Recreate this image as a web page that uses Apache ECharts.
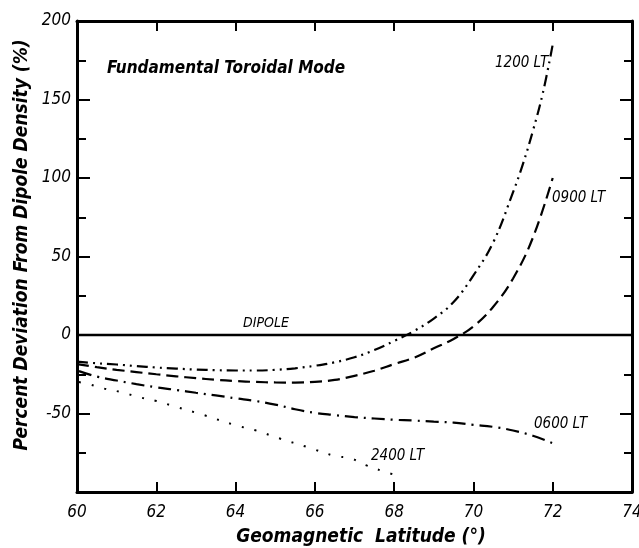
<!DOCTYPE html>
<html>
<head>
<meta charset="utf-8">
<script src="https://cdn.jsdelivr.net/npm/echarts@6/dist/echarts.min.js"></script>
<style>
html,body{margin:0;padding:0;background:#fff;}
#chart{width:639px;height:548px;}
</style>
</head>
<body>
<div id="chart"></div>
<script>
// ---- data ----
var lat1200 = [60.0, 60.5, 61.0, 61.5, 62.0, 62.5, 63.0, 63.5, 64.0, 64.5, 65.0, 65.5, 66.0, 66.5, 67.0, 67.5, 68.0, 68.5, 69.0, 69.5, 70.0, 70.5, 71.0, 71.25, 71.5, 71.75, 72.0];
var val1200 = [-17, -18, -18.8, -19.8, -20.7, -21.4, -22, -22.4, -22.6, -22.6, -22.2, -21.2, -19.6, -17.4, -14.2, -9.6, -3.8, 2.5, 10.5, 21, 38, 59, 91, 109, 130, 154, 185];

var lat0900 = [60.0, 60.5, 61.0, 61.5, 62.0, 62.5, 63.0, 63.5, 64.0, 64.5, 65.0, 65.5, 66.0, 66.5, 67.0, 67.5, 68.0, 68.5, 69.0, 69.5, 70.0, 70.5, 71.0, 71.5, 72.0];
var val0900 = [-18.5, -20.5, -22.2, -23.6, -25, -26.3, -27.5, -28.5, -29.3, -29.9, -30.2, -30.3, -29.8, -28.6, -26, -22.8, -18.5, -14.5, -8.5, -2.5, 5.5, 18, 36, 62, 100];

var lat0600 = [60.05, 60.5, 61.0, 61.5, 62.0, 62.5, 63.0, 63.5, 64.0, 64.5, 65.0, 65.5, 66.0, 66.5, 67.0, 67.5, 68.0, 68.5, 69.0, 69.5, 70.0, 70.5, 71.0, 71.5, 72.0];
var val0600 = [-23, -26.5, -29, -31.3, -33.3, -35, -36.8, -38.5, -40.3, -42, -44.3, -47.3, -49.6, -51, -52.3, -53.2, -54, -54.5, -55.2, -55.8, -57.2, -58.5, -60.8, -64.2, -69];

var lat2400 = [60.05, 60.3, 60.66, 61.08, 61.6, 62.0, 62.5, 63.2, 64.0, 64.5, 65.1, 65.8, 66.5, 66.9, 67.3, 67.7, 68.0];
var val2400 = [-30, -31.3, -34, -36.2, -39.8, -42, -45.8, -51, -57.5, -60.7, -65.8, -71.3, -77, -78.5, -83, -86.6, -89];

var dipoleLat = [60, 74];
var dipoleVal = [0, 0];

var xTicks = [60, 62, 64, 66, 68, 70, 72, 74];
var yTickLabels = [200, 150, 100, 50, 0, -50];

function pairs(xs, ys){ return xs.map(function(x,i){ return [x, ys[i]]; }); }

var FONT = '"DejaVu Sans Condensed", "Liberation Sans Narrow", "Liberation Sans", sans-serif';

var chart = echarts.init(document.getElementById('chart'), null, {renderer:'canvas'});

var axisLineStyle = {color:'#000', width:3};

var option = {
  animation:false,
  backgroundColor:'#fff',
  grid:{left:77, top:21, right:7, bottom:56, containLabel:false, outerBoundsMode:'none'},
  xAxis:[{
    type:'value', min:60, max:74, interval:2, position:'bottom',
    axisLine:{show:true, onZero:false, lineStyle:axisLineStyle},
    axisTick:{show:true, inside:true, length:10, lineStyle:{color:'#000', width:2}},
    axisLabel:{show:true, margin:12, color:'#000', fontFamily:FONT, fontStyle:'italic', fontSize:17,
      formatter:function(v){ return xTicks.indexOf(v) >= 0 ? String(v) : ''; }},
    splitLine:{show:false}
  },{
    type:'value', min:60, max:74, interval:2, position:'top',
    axisLine:{show:true, onZero:false, lineStyle:axisLineStyle},
    axisTick:{show:true, inside:true, length:10, lineStyle:{color:'#000', width:2}},
    axisLabel:{show:false}, splitLine:{show:false}
  }],
  yAxis:[{
    type:'value', min:-100, max:200, interval:50, position:'left',
    axisLine:{show:true, onZero:false, lineStyle:axisLineStyle},
    axisTick:{show:true, inside:true, length:13, lineStyle:{color:'#000', width:2}},
    minorTick:{show:true, splitNumber:2, length:9, lineStyle:{color:'#000', width:2}},
    axisLabel:{show:true, margin:6, color:'#000', fontFamily:FONT, fontStyle:'italic', fontSize:17,
      formatter:function(v){ return yTickLabels.indexOf(v) >= 0 ? String(v) : ''; }},
    splitLine:{show:false}
  },{
    type:'value', min:-100, max:200, interval:50, position:'right',
    axisLine:{show:true, onZero:false, lineStyle:axisLineStyle},
    axisTick:{show:true, inside:true, length:12, lineStyle:{color:'#000', width:2}},
    minorTick:{show:true, splitNumber:2, length:8, lineStyle:{color:'#000', width:2}},
    axisLabel:{show:false}, splitLine:{show:false}
  }],
  series:[
    {name:'DIPOLE', type:'line', xAxisIndex:0, yAxisIndex:0, data:pairs(dipoleLat, dipoleVal),
      showSymbol:false, lineStyle:{color:'#000', width:2.5, type:'solid'}},
    {name:'1200 LT', type:'line', smooth:0.4, data:pairs(lat1200, val1200), showSymbol:false,
      lineStyle:{color:'#000', width:2.2, type:[11,5,2,5,2,5]}},
    {name:'0900 LT', type:'line', smooth:0.4, data:pairs(lat0900, val0900), showSymbol:false,
      lineStyle:{color:'#000', width:2.2, type:[12,6]}},
    {name:'0600 LT', type:'line', smooth:0.4, data:pairs(lat0600, val0600), showSymbol:false,
      lineStyle:{color:'#000', width:2.2, type:[13,6,2,6]}},
    {name:'2400 LT', type:'line', smooth:0.4, data:pairs(lat2400, val2400), showSymbol:false,
      lineStyle:{color:'#000', width:2, type:[2,11]}}
  ],
  graphic:[
    {type:'text', left:107, top:60, style:{text:'Fundamental Toroidal Mode', fill:'#000', font:'italic bold 17px '+FONT}},
    {type:'text', left:495, top:56, style:{text:'1200 LT', fill:'#000', font:'italic 15px '+FONT}},
    {type:'text', left:552, top:191, style:{text:'0900 LT', fill:'#000', font:'italic 15px '+FONT}},
    {type:'text', left:243, top:316, style:{text:'DIPOLE', fill:'#000', font:'italic 14px '+FONT}},
    {type:'text', left:534, top:417, style:{text:'0600 LT', fill:'#000', font:'italic 15px '+FONT}},
    {type:'text', left:371, top:449, style:{text:'2400 LT', fill:'#000', font:'italic 15px '+FONT}},
    {type:'text', x:22, y:245, rotation:Math.PI/2,
      style:{text:'Percent Deviation From Dipole Density (%)', fill:'#000', font:'italic bold 19px '+FONT, align:'center', verticalAlign:'middle'}},
    {type:'text', x:361, y:537,
      style:{text:'Geomagnetic  Latitude (°)', fill:'#000', font:'italic bold 19px '+FONT, align:'center', verticalAlign:'middle'}}
  ]
};
chart.setOption(option);
</script>
</body>
</html>
